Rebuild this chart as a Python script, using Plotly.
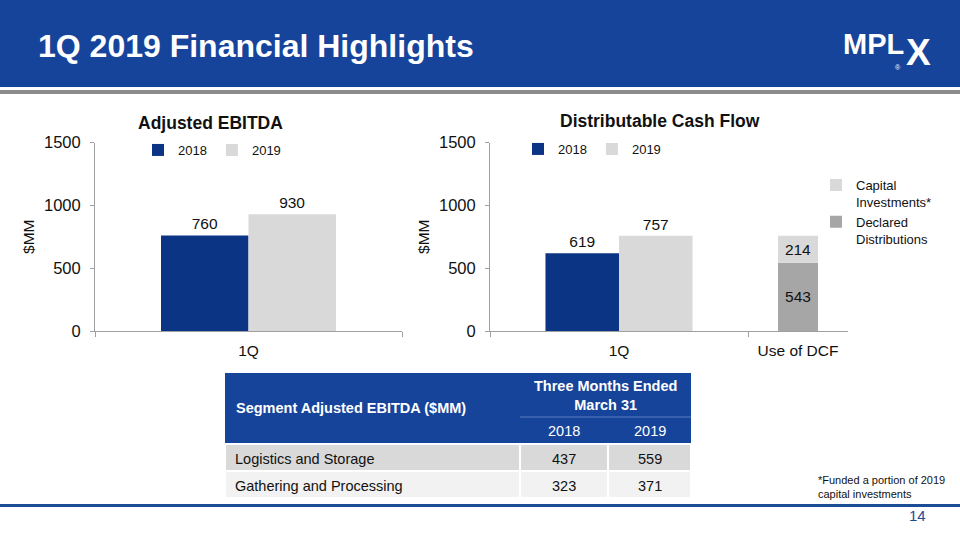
import plotly.graph_objects as go

# ---------------- data ----------------
quarters = ["1Q"]
ebitda_2018 = [760]
ebitda_2019 = [930]
dcf_2018 = [619]
dcf_2019 = [757]
use_cat = ["Use of DCF"]
declared_distributions = [543]
capital_investments = [214]
y_ticks = [0, 500, 1000, 1500]

table_title = "Segment Adjusted EBITDA ($MM)"
period_header = "Three Months Ended<br>March 31"
table_years = ["2018", "2019"]
segments = ["Logistics and Storage", "Gathering and Processing"]
segment_2018 = [437, 323]
segment_2019 = [559, 371]

slide_title = "1Q 2019 Financial Highlights"
footnote = "*Funded a portion of 2019<br>capital investments"
page_number = "14"

# ---------------- styling ----------------
W, H = 960, 540
FONT = "Arial, Liberation Sans, sans-serif"
BLUE_HDR = "#17449B"
BAR_BLUE = "#0C3485"
LIGHT = "#D9D9D9"
MID = "#A6A6A6"
AXIS = "#A0A0A0"
TXT = "#111111"


def px(x):
    return x / W


def py(y):
    return 1 - y / H


fig = go.Figure()

bar_w = 0.285
label_font = dict(family=FONT, size=15.5, color=TXT)

# Left chart: Adjusted EBITDA
fig.add_trace(go.Bar(name="2018", x=quarters, y=ebitda_2018, xaxis="x", yaxis="y",
                     width=bar_w, offset=-bar_w, marker=dict(color=BAR_BLUE, line=dict(width=0)),
                     text=ebitda_2018, textposition="outside", textfont=label_font,
                     legend="legend", cliponaxis=False))
fig.add_trace(go.Bar(name="2019", x=quarters, y=ebitda_2019, xaxis="x", yaxis="y",
                     width=bar_w, offset=0, marker=dict(color=LIGHT, line=dict(width=0)),
                     text=ebitda_2019, textposition="outside", textfont=label_font,
                     legend="legend", cliponaxis=False))

# Right chart: Distributable Cash Flow
fig.add_trace(go.Bar(name="2018", x=quarters, y=dcf_2018, xaxis="x2", yaxis="y2",
                     width=bar_w, offset=-bar_w, marker=dict(color=BAR_BLUE, line=dict(width=0)),
                     text=dcf_2018, textposition="outside", textfont=label_font,
                     legend="legend2", cliponaxis=False))
fig.add_trace(go.Bar(name="2019", x=quarters, y=dcf_2019, xaxis="x2", yaxis="y2",
                     width=bar_w, offset=0, marker=dict(color=LIGHT, line=dict(width=0)),
                     text=dcf_2019, textposition="outside", textfont=label_font,
                     legend="legend2", cliponaxis=False))

# Use of DCF stacked bar
fig.add_trace(go.Bar(name="Declared<br>Distributions", x=use_cat, y=declared_distributions,
                     xaxis="x3", yaxis="y2", width=0.4,
                     marker=dict(color=MID, line=dict(width=0)),
                     text=declared_distributions, textposition="inside",
                     insidetextanchor="middle", textangle=0,
                     textfont=label_font, legend="legend3"))
fig.add_trace(go.Bar(name="Capital<br>Investments*", x=use_cat, y=capital_investments,
                     base=declared_distributions, xaxis="x3", yaxis="y2", width=0.4,
                     marker=dict(color=LIGHT, line=dict(width=0)),
                     text=capital_investments, textposition="inside",
                     insidetextanchor="middle", textangle=0,
                     textfont=label_font, legend="legend3"))

y_dom = [py(331), py(142.5)]
x_common = dict(type="category", range=[-0.5, 0.5], showline=True, linecolor=AXIS, linewidth=1,
                ticks="outside", tickson="boundaries", ticklen=5, tickcolor=AXIS,
                tickfont=dict(family=FONT, size=15.5, color=TXT), showgrid=False,
                ticklabelstandoff=5,
                zeroline=False, automargin=False, fixedrange=True)
y_common = dict(range=[0, 1500], tickvals=y_ticks, showline=True, linecolor=AXIS, linewidth=1,
                ticks="outside", ticklen=4, tickcolor=AXIS, showgrid=False, zeroline=False,
                tickfont=dict(family=FONT, size=16.5, color=TXT), automargin=False,
                ticklabelstandoff=6,
                title=dict(text="$MM", font=dict(family=FONT, size=15.5, color=TXT), standoff=5),
                domain=y_dom, fixedrange=True)

legend_common = dict(bgcolor="rgba(0,0,0,0)", font=dict(family=FONT, size=13, color=TXT),
                     itemclick=False, itemdoubleclick=False)

fig.update_layout(
    width=W, height=H,
    margin=dict(l=0, r=0, t=0, b=0),
    paper_bgcolor="white", plot_bgcolor="rgba(0,0,0,0)",
    font=dict(family=FONT, color=TXT),
    template="none",
    barmode="overlay",
    xaxis=dict(domain=[px(95), px(402)], anchor="y", **x_common),
    yaxis=dict(anchor="x", **y_common),
    xaxis2=dict(domain=[px(490), px(748)], anchor="y2", **x_common),
    xaxis3=dict(domain=[px(748), px(848)], anchor="y2", **x_common),
    yaxis2=dict(anchor="x2", **y_common),
    legend=dict(orientation="h", x=px(138), y=py(135), xanchor="left", yanchor="top",
                itemwidth=30, **legend_common),
    legend2=dict(orientation="h", x=px(518), y=py(134), xanchor="left", yanchor="top",
                 itemwidth=30, **legend_common),
    legend3=dict(orientation="v", x=px(816), y=py(170), xanchor="left", yanchor="top",
                 itemwidth=30, traceorder="reversed", valign="top", **legend_common),
    showlegend=True,
)

shapes = []
annotations = []

# header band and rules
shapes.append(dict(type="rect", xref="paper", yref="paper", x0=0, x1=1, y0=py(87), y1=1,
                   fillcolor=BLUE_HDR, line=dict(width=0), layer="below"))
shapes.append(dict(type="rect", xref="paper", yref="paper", x0=0, x1=1, y0=py(94), y1=py(90),
                   fillcolor="#8C8C8C", line=dict(width=0), layer="below"))
shapes.append(dict(type="rect", xref="paper", yref="paper", x0=0, x1=1, y0=py(507), y1=py(504),
                   fillcolor="#1D4C97", line=dict(width=0), layer="below"))

annotations.append(dict(text="<b>" + slide_title + "</b>", xref="paper", yref="paper",
                        x=px(36), y=py(46), xanchor="left", yanchor="middle", showarrow=False,
                        font=dict(family=FONT, size=32, color="white")))
# logo as text
annotations.append(dict(text="<b>MPL</b>", xref="paper", yref="paper", x=px(841), y=py(44),
                        xanchor="left", yanchor="middle", showarrow=False,
                        font=dict(family=FONT, size=29, color="white")))
annotations.append(dict(text="<b>X</b>", xref="paper", yref="paper", x=px(904), y=py(52),
                        xanchor="left", yanchor="middle", showarrow=False,
                        font=dict(family=FONT, size=37, color="white")))
annotations.append(dict(text="®", xref="paper", yref="paper", x=px(903), y=py(67),
                        xanchor="right", yanchor="middle", showarrow=False,
                        font=dict(family=FONT, size=7, color="white")))

# chart titles
annotations.append(dict(text="<b>Adjusted EBITDA</b>", xref="paper", yref="paper",
                        x=px(210), y=py(123), xanchor="center", yanchor="middle", showarrow=False,
                        font=dict(family=FONT, size=17.5, color=TXT)))
annotations.append(dict(text="<b>Distributable Cash Flow</b>", xref="paper", yref="paper",
                        x=px(660), y=py(121), xanchor="center", yanchor="middle", showarrow=False,
                        font=dict(family=FONT, size=17.5, color=TXT)))

# table
col_x = [225, 520, 608, 691]
hdr_top, hdr_mid, hdr_bot = 373, 417, 444
row_h = 27
row_fills = ["#D9D9D9", "#F2F2F2"]
tfont = dict(family=FONT, size=14.5, color=TXT)
wfont = dict(family=FONT, size=14.5, color="white")

shapes.append(dict(type="rect", xref="paper", yref="paper", x0=px(col_x[0]), x1=px(col_x[-1]),
                   y0=py(hdr_bot), y1=py(hdr_top), fillcolor=BLUE_HDR, line=dict(width=0)))
shapes.append(dict(type="line", xref="paper", yref="paper", x0=px(col_x[1]), x1=px(col_x[-1]),
                   y0=py(hdr_mid), y1=py(hdr_mid), line=dict(color="#5C7DBE", width=1)))
annotations.append(dict(text="<b>" + table_title + "</b>", xref="paper", yref="paper",
                        x=px(col_x[0] + 9), y=py(408), xanchor="left", yanchor="middle",
                        showarrow=False, font=wfont))
annotations.append(dict(text="<b>" + period_header + "</b>", xref="paper", yref="paper",
                        x=px((col_x[1] + col_x[3]) / 2), y=py(395), xanchor="center",
                        yanchor="middle", showarrow=False, font=wfont))
for j, yr in enumerate(table_years):
    annotations.append(dict(text=yr, xref="paper", yref="paper",
                            x=px((col_x[j + 1] + col_x[j + 2]) / 2), y=py(431),
                            xanchor="center", yanchor="middle", showarrow=False, font=wfont))

for i, seg in enumerate(segments):
    top = hdr_bot + i * row_h
    bot = top + row_h
    for j in range(3):
        shapes.append(dict(type="rect", xref="paper", yref="paper", x0=px(col_x[j]),
                           x1=px(col_x[j + 1]), y0=py(bot), y1=py(top),
                           fillcolor=row_fills[i], line=dict(color="white", width=2)))
    cy = (top + bot) / 2 + 1
    annotations.append(dict(text=seg, xref="paper", yref="paper", x=px(col_x[0] + 8), y=py(cy),
                            xanchor="left", yanchor="middle", showarrow=False, font=tfont))
    vals = [segment_2018[i], segment_2019[i]]
    for j, v in enumerate(vals):
        annotations.append(dict(text=str(v), xref="paper", yref="paper",
                                x=px((col_x[j + 1] + col_x[j + 2]) / 2), y=py(cy),
                                xanchor="center", yanchor="middle", showarrow=False, font=tfont))

# footnote and page number
annotations.append(dict(text=footnote, xref="paper", yref="paper", x=px(816), y=py(472),
                        xanchor="left", yanchor="top", align="left", showarrow=False,
                        font=dict(family=FONT, size=11, color=TXT)))
annotations.append(dict(text=page_number, xref="paper", yref="paper", x=px(917), y=py(515),
                        xanchor="center", yanchor="middle", showarrow=False,
                        font=dict(family=FONT, size=15, color="#1D4C97")))

fig.update_layout(shapes=shapes, annotations=annotations)

fig.write_html(
    "out.html",
    config={"displayModeBar": False},
    post_script="document.body.style.margin='0';document.body.style.padding='0';"
                "document.body.style.overflow='hidden';",
)
